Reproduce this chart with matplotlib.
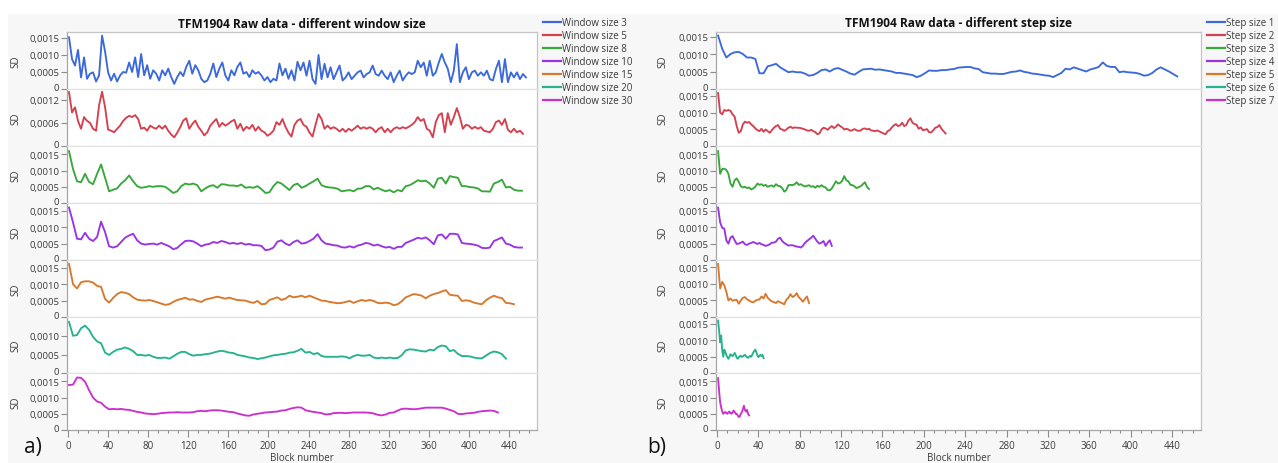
import numpy as np
import matplotlib
matplotlib.use("Agg")
import matplotlib.pyplot as plt
import matplotlib.transforms as mtransforms
from matplotlib.lines import Line2D
from matplotlib.patches import Rectangle
from matplotlib.ticker import FixedLocator, MultipleLocator, FuncFormatter, NullLocator

plt.rcParams['font.family'] = ['Open Sans', 'DejaVu Sans']

# ---------------------------------------------------------------------------
# SD per block (values given in units of 1e-4)
# ---------------------------------------------------------------------------
# (a) different window sizes
win3 = [15.2, 8.8, 6.9, 11.5, 3.4, 9.3, 3.0, 4.5, 4.9, 2.2, 4.0, 15.7, 11.0, 4.9, 2.5, 4.5,
        2.2, 4.0, 5.0, 4.8, 7.8, 5.0, 9.3, 3.5, 10.3, 4.0, 7.0, 3.0, 5.5, 4.5, 2.5,
        5.5, 4.0, 6.0, 3.5, 1.5, 3.5, 5.0, 3.8, 6.5, 8.3, 4.5, 7.0, 5.5, 3.0, 2.0, 2.5,
        4.5, 7.5, 3.5, 6.0, 7.8, 4.0, 2.5, 5.5, 4.0, 6.5, 7.8, 4.5, 5.0, 3.5, 5.5, 4.5,
        5.0, 4.0, 2.5, 3.5, 2.0, 3.0, 2.5, 7.5, 4.0, 6.0, 3.0, 5.5, 2.5, 8.0, 5.5,
        7.8, 3.9, 8.3, 2.9, 1.5, 10.0, 2.9, 7.4, 3.4, 6.4, 2.9, 4.9, 6.9, 2.5, 3.4,
        4.9, 2.9, 3.9, 4.9, 5.4, 3.4, 4.4, 4.9, 6.9, 4.4, 3.9, 5.4, 3.9, 2.9, 4.9,
        2.0, 3.9, 5.4, 2.5, 3.9, 4.9, 4.4, 4.9, 8.3, 6.4, 7.8, 3.9, 8.3, 3.9, 4.9,
        7.8, 10.3, 7.8, 5.9, 2.0, 5.4, 13.2, 2.0, 4.9, 6.4, 2.9, 4.9, 5.4, 3.9, 4.9,
        3.9, 5.4, 2.9, 2.5, 5.9, 8.3, 2.0, 8.8, 2.0, 4.9, 3.4, 4.9, 2.9, 4.4, 3.4]
win5 = [13.9, 8.7, 10.0, 6.5, 4.5, 7.5, 6.5, 6.0, 4.5, 4.0, 10.5, 14.0, 10.0, 4.3, 4.0, 3.6,
        4.5, 5.3, 6.5, 7.3, 7.8, 7.5, 8.0, 7.0, 4.5, 4.8, 4.0, 5.3, 4.8, 4.5, 5.3, 4.5,
        5.3, 4.0, 3.0, 2.3, 3.5, 4.9, 6.6, 7.2, 4.5, 5.7, 6.6, 5.0, 4.0, 2.8, 3.6, 5.3,
        6.2, 7.0, 5.0, 6.0, 5.3, 5.8, 6.4, 6.8, 4.5, 5.8, 4.0, 5.0, 4.5, 5.5, 4.0, 5.0,
        4.0, 3.6, 2.7, 3.2, 4.0, 6.2, 5.5, 7.0, 5.0, 3.5, 2.5, 5.5, 6.6, 7.0,
        5.5, 5.0, 3.5, 2.5, 5.5, 8.3, 7.0, 4.5, 5.3, 4.5, 4.9, 4.5, 3.8, 4.5, 3.7, 4.5,
        4.0, 4.6, 5.3, 4.5, 4.9, 4.5, 4.9, 4.5, 3.6, 4.5, 4.9, 3.6, 4.5, 3.6, 4.5, 4.9,
        4.5, 4.9, 4.6, 5.0, 5.5, 6.2, 7.5, 6.5, 7.0, 4.5, 4.0, 2.3, 6.2, 8.0, 8.5, 3.6,
        8.5, 5.5, 7.5, 9.8, 7.5, 4.5, 5.5, 5.3, 4.5, 5.0, 4.5, 4.9, 4.0, 3.8, 3.6, 4.5,
        6.2, 6.6, 5.5, 7.0, 4.2, 3.6, 4.5, 3.6, 4.0, 3.2]
win8 = [16.0, 10.5, 6.7, 6.4, 9.0, 6.5, 5.8, 9.0, 11.9, 7.8, 3.6, 4.1, 4.5, 6.0, 7.0, 8.5,
        6.7, 5.2, 4.7, 4.9, 5.2, 5.0, 5.2, 5.2, 5.0, 4.1, 3.1, 3.6, 5.2, 6.0, 5.7, 6.0,
        5.5, 3.6, 4.5, 5.2, 5.5, 4.7, 5.8, 5.7, 5.4, 5.4, 5.2, 5.7, 4.7, 4.9, 4.7, 5.2,
        4.3, 3.1, 3.3, 5.2, 6.5, 6.0, 5.0, 4.0, 5.5,
        6.0, 4.7, 5.2, 6.0, 6.7, 7.5, 5.5, 5.0, 4.8, 4.7, 4.4, 3.6, 3.8, 4.0, 3.6, 4.4,
        4.5, 5.2, 5.2, 4.2, 4.7, 4.1, 3.6, 4.0, 3.3, 4.0, 3.6, 5.2, 5.5, 6.2, 7.0, 6.7,
        6.9, 6.0, 4.7, 7.5, 7.8, 6.0, 8.3, 8.0, 7.8, 5.2, 5.2, 4.9, 4.8, 4.5, 3.6, 3.6,
        3.5, 6.0, 6.5, 7.2, 4.8, 5.0, 4.1, 3.8, 3.8]
win10 = [16.0, 11.5, 6.5, 6.3, 8.3, 6.5, 5.8, 7.0, 11.7, 8.5, 4.2, 3.8, 4.2, 5.5, 6.8, 7.5,
         8.0, 6.0, 5.0, 4.7, 4.9, 5.0, 4.7, 5.2, 4.7, 4.2, 3.3, 3.7, 4.8, 5.8, 5.9, 5.7,
         5.0, 4.2, 4.7, 4.9, 5.5, 5.2, 5.8, 5.5, 5.0, 5.2, 4.9, 5.2, 4.7, 4.9, 4.5, 4.5,
         4.3, 3.0, 3.2, 3.8, 5.6, 6.0, 5.0, 4.5, 5.5,
         6.0, 5.0, 5.2, 5.8, 6.5, 7.9, 6.0, 5.0, 4.8, 4.5, 4.4, 3.9, 3.8, 4.2, 3.8, 4.4,
         4.7, 5.2, 5.0, 4.4, 4.7, 4.2, 3.8, 4.0, 3.4, 4.0, 4.0, 5.2, 5.7, 6.2, 6.8, 6.5,
         6.9, 6.0, 4.8, 7.5, 7.8, 6.5, 8.0, 8.0, 7.8, 5.2, 5.0, 4.9, 4.7, 4.4, 3.7, 3.6,
         3.8, 5.8, 6.3, 6.9, 5.0, 4.7, 4.0, 3.8, 3.8]
win15 = [16.2, 10.0, 8.7, 10.6, 10.9, 10.9, 10.5, 9.5, 9.2, 5.5, 4.4, 5.8, 7.0, 7.6, 7.4,
         7.0, 6.0, 5.3, 5.1, 5.0, 5.2, 4.9, 4.5, 4.1, 3.7, 3.9, 4.6, 5.2, 5.5, 5.9, 5.3,
         5.4, 4.9, 4.6, 5.3, 5.6, 5.9, 6.2, 5.9, 5.6, 5.9, 5.5, 5.2, 5.1, 5.0, 4.6, 4.3,
         4.9, 3.9, 4.0, 5.2, 5.6, 6.0, 5.2, 5.6, 6.5, 6.0, 6.2, 6.5,
         6.0, 6.5, 6.0, 5.5, 5.0, 4.9, 4.6, 4.4, 4.2, 4.3, 4.6, 4.9, 4.3, 4.8, 5.2, 4.9,
         5.2, 4.9, 4.3, 4.2, 4.4, 4.2, 3.6, 3.9, 4.8, 6.0, 6.5, 7.0, 6.8, 6.5, 5.7, 6.5,
         7.0, 7.3, 7.8, 8.2, 6.8, 6.6, 6.5, 4.9, 5.1, 4.9, 4.4, 4.1, 3.9, 5.1, 5.9, 6.5,
         6.0, 5.8, 4.3, 4.2, 3.9]
win20 = [13.7, 10.0, 10.2, 12.0, 12.7, 11.6, 9.7, 8.5, 8.0, 5.5, 4.9, 5.7, 6.3, 6.5, 6.9,
         6.5, 5.9, 4.9, 4.9, 4.7, 4.9, 4.4, 4.1, 4.1, 4.2, 3.9, 4.5, 5.2, 5.7, 5.7, 5.1,
         4.7, 4.9, 4.9, 5.1, 5.2, 5.5, 5.8, 6.0, 5.8, 5.5, 5.4, 4.9, 4.7, 4.5, 4.2, 4.1,
         3.8, 4.0, 4.2, 4.5, 4.8, 4.9, 5.1, 5.2, 5.5, 5.6, 6.0, 6.5,
         5.5, 5.7, 5.1, 5.4, 4.6, 4.4, 4.4, 4.4, 4.4, 4.5, 4.4, 4.0, 4.6, 4.9, 4.7, 4.7,
         4.9, 4.2, 4.0, 4.2, 4.0, 4.2, 4.0, 4.1, 4.8, 6.1, 6.4, 6.3, 6.1, 5.9, 5.8, 6.3,
         6.1, 7.0, 7.4, 7.2, 5.9, 6.2, 5.2, 4.6, 4.6, 4.5, 4.2, 4.0, 4.0, 4.7, 5.4, 5.8,
         5.6, 5.1, 3.9]
win30 = [13.9, 14.0, 16.2, 16.1, 14.9, 12.3, 10.0, 8.8, 8.4, 7.2, 6.4, 6.5, 6.4, 6.5, 6.3,
         6.2, 5.9, 5.6, 5.4, 5.1, 5.0, 4.9, 5.0, 5.2, 5.3, 5.4, 5.4, 5.5, 5.4, 5.4, 5.4,
         5.5, 5.8, 5.9, 5.8, 6.0, 6.1, 6.1, 6.0, 5.8, 5.6, 5.5, 5.1, 4.8, 4.5, 4.4, 4.8,
         5.0, 5.2, 5.4, 5.5, 5.6, 5.7, 6.0, 6.1, 6.5, 6.8, 7.0, 6.9,
         6.1, 5.8, 5.6, 5.4, 5.2, 4.8, 4.9, 5.2, 5.3, 5.3, 5.2, 5.3, 5.4, 5.4, 5.4, 5.4,
         5.3, 5.1, 4.7, 4.5, 4.8, 5.3, 5.4, 6.0, 6.5, 6.6, 6.5, 6.4, 6.5, 6.7, 6.9, 6.9,
         6.9, 6.9, 6.9, 6.6, 6.2, 5.8, 5.0, 4.9, 5.1, 5.2, 5.3, 5.6, 5.8, 5.9, 6.0, 5.9,
         5.4]

# (b) different step sizes
step1 = [15.3, 11.5, 9.0, 10.0, 10.5, 10.6, 10.0, 9.0, 9.0, 8.6, 4.5, 4.5, 6.5, 6.8, 7.2,
         6.2, 5.5, 4.8, 5.0, 4.8, 4.8, 4.4, 3.8, 4.0, 4.6, 5.4, 5.6, 5.0, 5.7, 6.0, 5.5,
         5.0, 4.4, 4.1, 4.9, 5.6, 5.7, 5.8, 5.5, 5.6, 5.4, 5.2, 5.0, 4.6, 4.6, 4.4, 4.2,
         4.0, 3.4, 3.8, 4.5, 5.3, 5.2, 5.2, 5.4, 5.4, 5.6,
         5.7, 6.1, 6.2, 6.3, 6.3, 5.9, 5.7, 4.8, 4.6, 4.4, 4.4, 4.3, 4.3, 4.6, 4.9, 5.0,
         5.3, 4.9, 4.7, 4.4, 4.3, 4.1, 3.9, 3.8, 3.4, 4.0, 4.6, 5.8, 5.6, 6.2, 5.8, 5.4,
         5.0, 5.6, 5.9, 6.3, 7.6, 6.6, 6.3, 6.3, 4.8, 5.0, 4.8, 4.7, 4.6, 4.3, 3.8, 4.0,
         4.6, 5.6, 6.2, 5.6, 5.0, 4.3, 3.6]
step2 = [15.8, 10.0, 9.5, 10.8, 10.5, 10.8, 10.5, 9.5, 8.8, 6.0,
         4.0, 4.5, 6.5, 7.3, 7.0, 7.2, 6.5, 6.0, 5.3, 4.8,
         4.5, 5.2, 4.3, 5.0, 4.5, 4.0, 4.8, 5.5, 6.0, 6.3,
         5.2, 5.0, 4.6, 5.0, 5.5, 5.8, 5.4, 5.6, 5.5, 5.5,
         5.4, 5.2, 5.0, 4.7, 4.6, 4.9, 4.5, 4.2, 3.6, 3.8,
         5.0, 5.5, 5.3, 4.9, 5.5, 6.0, 5.4, 5.8, 6.5, 6.0,
         5.6, 5.0, 5.2, 5.0, 4.6, 4.8, 5.1, 4.7, 4.6, 4.7,
         5.2, 5.3, 5.0, 5.2, 4.7, 4.6, 4.5, 4.7, 4.4, 4.1,
         3.8, 3.6, 4.5, 4.8, 5.6, 6.2, 6.6, 6.0, 6.2, 7.0,
         6.0, 6.3, 7.6, 8.3, 7.0, 6.6, 6.4, 5.2, 5.6, 4.8,
         4.9, 5.1, 4.2, 4.1, 4.7, 5.5, 5.7, 6.3, 5.2, 4.5, 3.8]
step3 = [16.0, 9.0, 10.5, 10.6, 10.2, 9.0, 6.0, 5.0, 7.0, 7.6, 6.5, 5.2, 4.8, 5.0, 4.6,
         4.8, 4.2, 4.5, 5.0, 6.0, 5.6, 5.8, 5.3, 5.6, 5.0, 5.3, 5.4, 5.0, 5.8, 5.3, 5.2,
         4.6, 3.5, 4.0, 5.5, 5.6, 5.5, 5.8, 6.4, 5.6, 5.8, 5.4, 5.1, 5.3, 5.5, 5.0, 5.2,
         4.7, 5.3, 5.0, 5.5, 5.0, 4.8, 4.0, 3.9, 4.5, 5.6, 6.7, 6.0, 6.2, 6.8, 8.3, 7.0,
         6.7, 5.6, 5.5, 5.1, 4.6, 4.9, 5.2, 5.8, 6.4, 5.0, 4.3]
step4 = [16.0, 11.5, 9.8, 9.6, 6.0, 5.0, 6.8, 7.3, 6.0, 4.9, 5.0, 5.3, 5.6, 4.8, 4.6,
         5.0, 5.2, 5.5, 5.2, 4.9, 5.2, 4.8, 4.6, 4.3, 4.5, 4.8, 5.3, 5.3, 5.6, 6.5, 6.8,
         5.8, 5.2, 4.8, 4.4, 4.5, 4.5, 4.3, 4.1, 4.0, 3.8, 4.3, 5.2, 5.8, 6.3, 6.8, 7.4,
         6.5, 5.6, 5.0, 5.3, 5.8, 4.3, 5.3, 6.0, 4.3]
step5 = [16.0, 8.6, 10.6, 9.6, 7.6, 5.0, 5.6, 4.9, 5.1, 5.2, 4.0, 5.0, 5.8, 6.0, 5.3,
         5.0, 4.6, 4.4, 4.9, 5.2, 5.3, 6.2, 5.6, 7.0, 5.8, 5.2, 4.7, 4.5, 4.2, 4.8, 4.4,
         4.2, 3.8, 5.2, 5.8, 6.9, 6.0, 6.4, 7.2, 6.0, 5.4, 4.6, 5.5, 6.2, 4.2]
step6 = [16.0, 13.0, 9.4, 11.5, 7.0, 5.0, 7.2, 6.5, 5.5, 4.9, 4.4, 5.0, 5.8, 5.5, 5.2,
         5.6, 6.2, 5.6, 4.8, 4.4, 4.8, 5.2, 5.3, 5.0, 5.1, 5.4, 5.6, 5.2, 4.9, 4.7, 5.0,
         5.3, 5.0, 5.6, 6.3, 6.8, 7.2, 6.4, 5.5, 4.9, 5.3, 5.6, 5.2, 5.6, 4.6]
step7 = [16.0, 12.0, 8.6, 7.0, 5.7, 5.0, 5.3, 5.6, 5.2, 5.0, 5.4, 5.7, 5.2, 5.0, 5.4,
         6.0, 5.6, 5.0, 5.0, 4.5, 4.0, 4.2, 5.0, 5.5, 6.4, 7.5, 6.2, 5.7, 6.2, 5.0, 4.5]

UNIT = 1e-4

window_labels = ["Window size 3", "Window size 5", "Window size 8", "Window size 10",
                 "Window size 15", "Window size 20", "Window size 30"]
step_labels = ["Step size 1", "Step size 2", "Step size 3", "Step size 4",
               "Step size 5", "Step size 6", "Step size 7"]

# block spacing of each stored series
window_series = [(win3, 3), (win5, 3), (win8, 4), (win10, 4), (win15, 4), (win20, 4), (win30, 4)]
step_series = [(step1, 4), (step2, 2), (step3, 2), (step4, 2), (step5, 2), (step6, 1), (step7, 1)]

window_yticks = [[0, 0.0005, 0.0010, 0.0015], [0, 0.0006, 0.0012], [0, 0.0005, 0.0010, 0.0015],
                 [0, 0.0005, 0.0010, 0.0015], [0, 0.0005, 0.0010, 0.0015], [0, 0.0005, 0.0010],
                 [0, 0.0005, 0.0010, 0.0015]]
step_yticks = [[0, 0.0005, 0.0010, 0.0015]] * 7
window_ytop = [0.001676, 0.00147, 0.00175, 0.00174, 0.00174, 0.0015, 0.00175]
step_ytop = [0.00163, 0.0017, 0.00175, 0.00174, 0.00172, 0.00171, 0.00175]

colors = ['#3b69dc', '#d5404f', '#38a83a', '#9a33e3', '#d9782b', '#24b38d', '#cc30cc']

# ---------------------------------------------------------------------------
W, H = 1278, 464
fig = plt.figure(figsize=(W / 100, H / 100), dpi=100, facecolor='white')


def fx(px):
    return px / W


def fy(py):
    return 1 - py / H


BG = '#f7f7f7'
fig.add_artist(Rectangle((fx(8), 0), fx(W) - fx(8), fy(15), transform=fig.transFigure,
                         facecolor=BG, edgecolor='none', zorder=-10))

row_edges = [33, 90, 147.3, 204, 261, 318, 374.3, 431]
TXT = '#3a3a3a'
zero_shift = mtransforms.ScaledTranslation(0, 2.5 / 100, fig.dpi_scale_trans)


def sd_fmt(v, _):
    if abs(v) < 1e-12:
        return '0'
    return f'{v:.4f}'.replace('.', ',')


def draw_panel(left, right, series, labels, yticks, ytops, title, legend_x, tag, tag_x, sd_x):
    for r in range(7):
        top, bot = row_edges[r], row_edges[r + 1]
        ax = fig.add_axes([fx(left), fy(bot), fx(right) - fx(left), (bot - top) / H])
        vals, step = series[r]
        x = np.arange(1, 1 + step * len(vals), step)
        ax.plot(x, np.asarray(vals) * UNIT, color=colors[r], lw=1.35, solid_joinstyle='round')
        ax.set_xlim(-1, 468)
        ax.set_ylim(0, ytops[r])
        ax.yaxis.set_major_locator(FixedLocator(yticks[r]))
        ax.yaxis.set_major_formatter(FuncFormatter(sd_fmt))
        ax.tick_params(axis='y', labelsize=6.8, length=4, width=0.8, color='#8c8c8c',
                       labelcolor=TXT, pad=1.5)
        for tk, loc in zip(ax.yaxis.get_major_ticks(), yticks[r]):
            if loc == 0:
                tk.label1.set_transform(tk.label1.get_transform() + zero_shift)
        ax.set_ylabel('SD', fontsize=7, color=TXT)
        ax.yaxis.set_label_coords((sd_x - left) / (right - left), 0.5)
        for s in ['top', 'right', 'bottom', 'left']:
            ax.spines[s].set_linewidth(0.9)
        ax.spines['left'].set_color('#a6a6a6')
        ax.spines['right'].set_color('#c4c4c4')
        ax.spines['top'].set_color('#c4c4c4' if r == 0 else '#e2e2e2')
        ax.spines['bottom'].set_color('#a6a6a6' if r == 6 else '#e2e2e2')
        if r < 6:
            ax.xaxis.set_major_locator(NullLocator())
        else:
            ax.xaxis.set_major_locator(MultipleLocator(40))
            ax.xaxis.set_minor_locator(MultipleLocator(10))
            ax.tick_params(axis='x', which='major', labelsize=7, length=5, width=0.8,
                           color='#8c8c8c', labelcolor=TXT, pad=2)
            ax.tick_params(axis='x', which='minor', length=2.5, width=0.8, color='#8c8c8c')
            ax.set_xlabel('Block number', fontsize=7, color=TXT, labelpad=1)

    fig.text(fx((left + right) / 2), fy(24), title, ha='center', va='center',
             fontsize=8.6, fontweight='bold', color='#111111')
    for i, lab in enumerate(labels):
        yy = fy(23.3 + 13 * i)
        fig.add_artist(Line2D([fx(legend_x), fx(legend_x + 18)], [yy, yy],
                              transform=fig.transFigure, color=colors[i], lw=1.6))
        fig.text(fx(legend_x + 19), yy, lab, ha='left', va='center', fontsize=7, color=TXT)
    fig.text(fx(tag_x), fy(448), tag, ha='left', va='center', fontsize=15, color='#111111')


draw_panel(67, 537, window_series, window_labels, window_yticks, window_ytop,
           'TFM1904 Raw data - different window size', 543, 'a)', 24, 21)
draw_panel(716, 1201, step_series, step_labels, step_yticks, step_ytop,
           'TFM1904 Raw data - different step size', 1207, 'b)', 647, 668)

fig.savefig('out.png', dpi=100, facecolor=fig.get_facecolor())
